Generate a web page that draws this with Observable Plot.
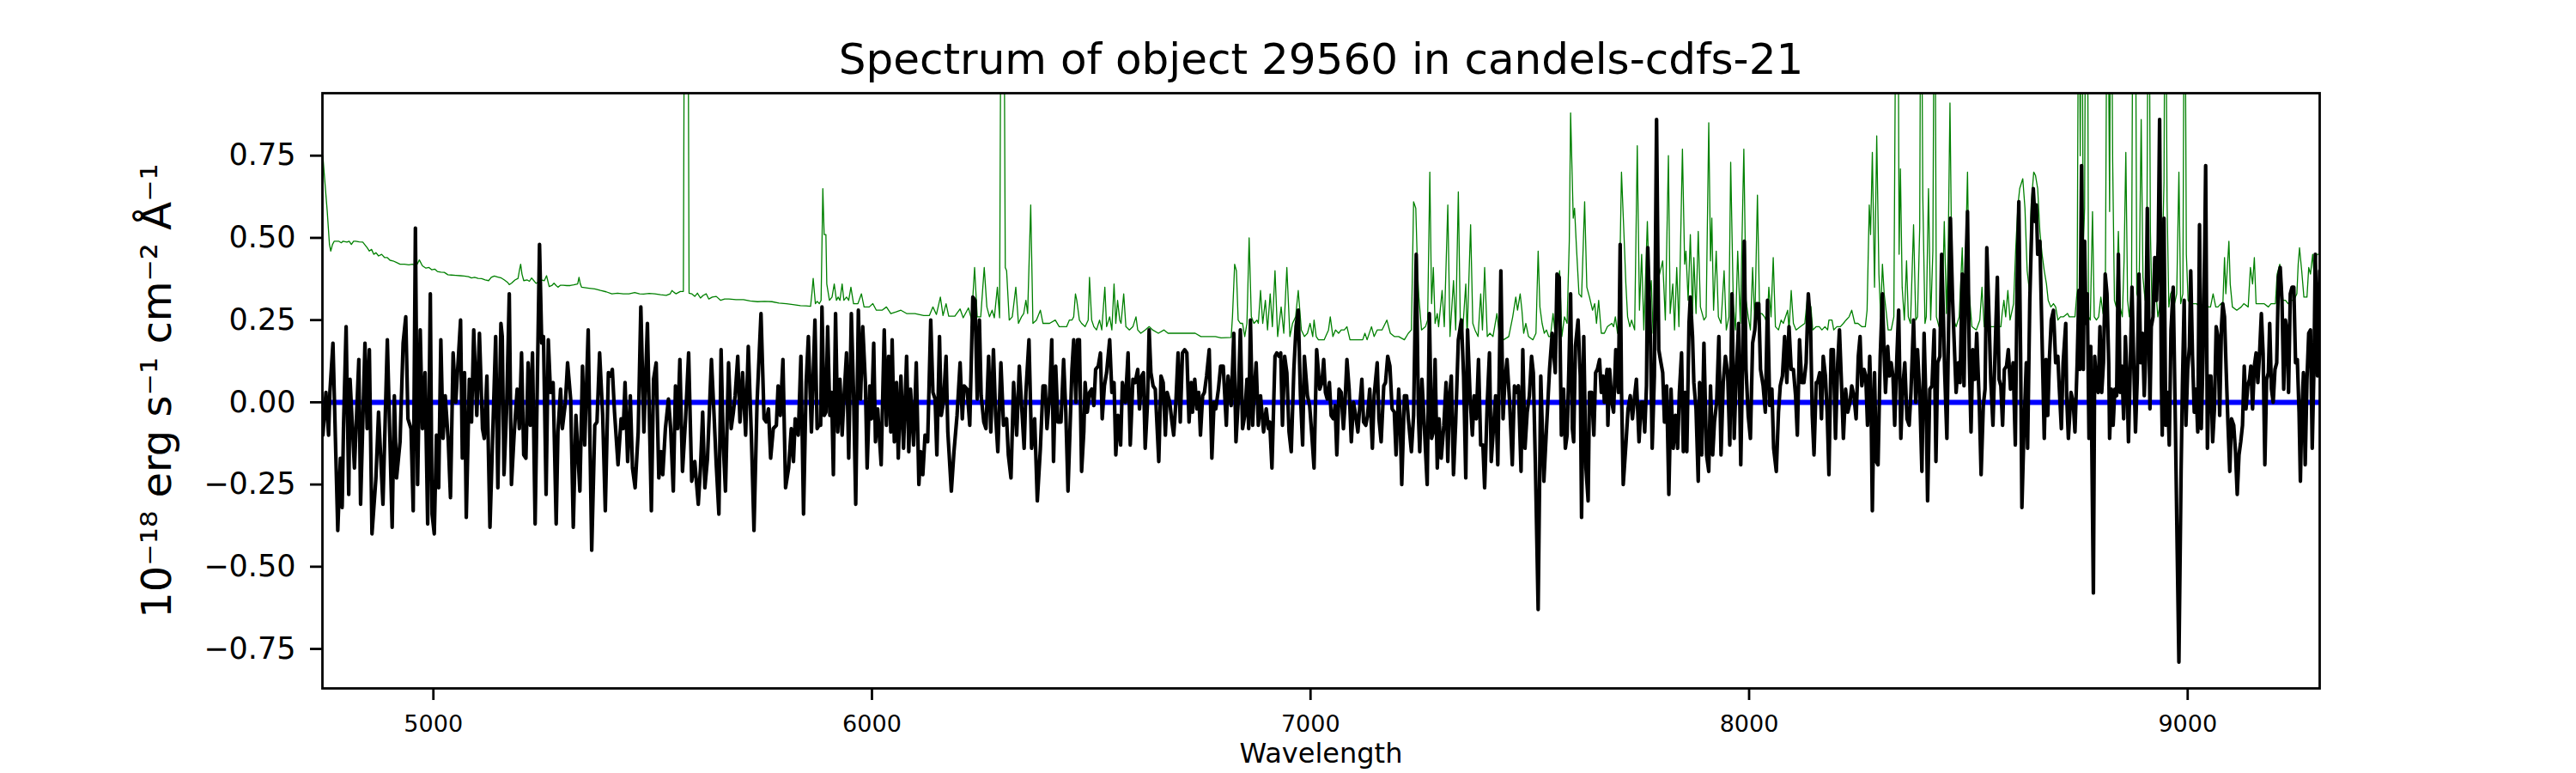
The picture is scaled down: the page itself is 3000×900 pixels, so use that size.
<!DOCTYPE html>
<html><head><meta charset="utf-8">
<script src="https://cdn.jsdelivr.net/npm/d3@7"></script>
<script src="https://cdn.jsdelivr.net/npm/@observablehq/plot@0.6"></script>
<style>body{margin:0;background:#fff}</style>
</head><body><div id="chart"></div>
<script>
const titleText = "Spectrum of object 29560 in candels-cdfs-21";
const xLabel = "Wavelength";
const yLabel = "10⁻¹⁸ erg s⁻¹ cm⁻² Å⁻¹";
const xTicks = [5000, 6000, 7000, 8000, 9000];
const yTicks = [-0.75, -0.5, -0.25, 0, 0.25, 0.5, 0.75];
const zeroLevel = [0];

// observed flux [wavelength, value]
const fluxA = [[4748,-0.10],[4755,0.03],[4761,-0.10],[4764,0.03],[4771,0.18],[4782,-0.39],[4788,-0.17],[4792,-0.32],[4795,-0.08],[4801,0.23],[4807,-0.28],[4810,0.07],[4820,-0.20],[4830,0.13],[4834,-0.31],[4844,0.18],[4849,-0.08],[4854,0.16],[4860,-0.40],[4869,-0.23],[4875,-0.03],[4885,-0.31],[4895,0.19],[4906,-0.38],[4911,0.02],[4916,-0.23],[4924,-0.12],[4931,0.18],[4937,0.26],[4942,-0.05],[4949,-0.08],[4954,-0.33],[4959,0.53],[4964,-0.25],[4970,0.22],[4975,-0.08],[4981,0.09],[4987,-0.37],[4993,0.33],[4997,-0.34],[5002,-0.40],[5007,-0.10],[5012,-0.26],[5017,0.19],[5022,-0.11],[5027,0.02],[5034,-0.12],[5039,-0.29],[5045,0.15],[5051,0.00],[5062,0.25],[5066,-0.17],[5071,0.09],[5075,-0.35],[5082,0.07],[5087,-0.06],[5092,0.22],[5099,-0.04],[5105,0.21],[5112,-0.08],[5116,-0.11],[5122,0.08],[5129,-0.38],[5142,0.20],[5147,-0.26],[5154,0.24],[5157,0.20],[5161,-0.22],[5167,-0.02],[5173,0.33],[5178,-0.25],[5184,-0.10],[5191,0.04],[5196,-0.08],[5201,0.15],[5206,-0.16],[5211,-0.17],[5216,0.12],[5221,-0.07],[5226,0.15],[5232,-0.37],[5237,0.06],[5242,0.48],[5247,0.18],[5251,0.20],[5257,-0.28],[5262,0.19],[5267,0.03],[5273,0.06],[5280,-0.37],[5284,-0.09],[5290,0.04],[5294,-0.08],[5301,0.00],[5306,0.12],[5313,0.01]];
const fluxB = [[5319,-0.38],[5325,-0.04],[5334,-0.27],[5340,0.11],[5345,-0.13],[5353,0.22],[5361,-0.45],[5368,-0.07],[5373,-0.06],[5379,0.15],[5386,-0.04],[5392,-0.33],[5399,0.09],[5404,0.08],[5408,0.10],[5413,-0.03],[5421,-0.19],[5428,-0.05],[5433,-0.08],[5437,0.06],[5443,-0.18],[5449,0.02],[5454,-0.20],[5460,-0.26],[5467,-0.09],[5473,0.29],[5480,-0.09],[5488,0.24],[5497,-0.33],[5502,0.07],[5508,0.12],[5514,-0.23],[5519,-0.15],[5523,-0.22],[5529,-0.08],[5536,0.01],[5541,-0.08],[5547,-0.27],[5552,0.05],[5557,-0.08],[5562,0.13],[5568,-0.21],[5575,-0.05],[5582,0.15],[5589,-0.24],[5596,-0.18],[5604,-0.31],[5609,-0.20],[5614,-0.03],[5619,-0.26],[5625,-0.17],[5634,0.13],[5640,-0.04],[5645,-0.19],[5651,-0.34],[5656,0.16],[5661,-0.13],[5666,-0.27],[5673,0.12],[5679,-0.08],[5684,-0.03],[5688,0.02],[5694,0.14],[5699,-0.06],[5705,0.09],[5712,-0.10],[5718,0.17],[5725,-0.10],[5731,-0.39],[5738,0.00],[5747,0.27],[5754,-0.05],[5759,-0.06],[5764,-0.02],[5769,-0.17],[5775,-0.08],[5782,-0.07],[5786,0.05],[5791,-0.04],[5797,0.13],[5803,-0.26],[5810,-0.20],[5816,-0.08],[5821,-0.18],[5825,-0.05],[5832,-0.10],[5838,0.14],[5844,-0.34],[5850,0.06],[5855,0.20],[5862,-0.09],[5870,0.25],[5875,-0.08],[5879,-0.07]];
const fluxC = [[5883,-0.07],[5886,0.29],[5891,-0.04],[5895,-0.03],[5899,0.23],[5904,-0.04],[5908,0.03],[5912,-0.22],[5917,0.27],[5922,-0.09],[5927,0.07],[5932,-0.10],[5936,0.01],[5942,0.15],[5947,-0.17],[5953,0.27],[5958,0.03],[5963,-0.31],[5969,0.28],[5974,0.01],[5979,0.23],[5985,0.06],[5989,-0.20],[5995,0.05],[5999,-0.05],[6004,0.18],[6008,-0.12],[6013,-0.02],[6021,-0.19],[6028,0.22],[6033,-0.07],[6038,0.14],[6043,-0.09],[6046,0.19],[6051,-0.12],[6056,0.06],[6060,-0.17],[6066,0.08],[6072,-0.14],[6079,0.14],[6084,-0.15],[6088,0.04],[6095,-0.13],[6101,0.12],[6107,-0.25],[6111,-0.15],[6116,-0.22],[6121,-0.10],[6127,-0.12],[6134,0.25],[6139,0.03],[6144,0.01],[6148,-0.16],[6154,0.20],[6158,-0.04],[6163,0.00],[6169,0.14],[6173,-0.09],[6181,-0.27],[6187,-0.15],[6194,-0.04],[6201,0.12],[6206,-0.05],[6210,0.05],[6217,0.04],[6223,-0.07],[6230,0.32],[6235,0.31],[6240,0.01],[6245,0.25],[6249,0.02],[6255,-0.06],[6260,-0.08],[6266,0.14],[6271,-0.09],[6277,0.16],[6282,-0.04],[6287,-0.15],[6294,0.12],[6300,-0.07],[6307,-0.05],[6311,-0.16],[6317,-0.23],[6323,0.06],[6330,-0.10],[6336,0.11],[6343,-0.05],[6347,-0.14],[6351,0.03],[6358,0.19],[6364,-0.14],[6371,-0.05],[6377,-0.30],[6384,-0.14],[6390,0.05],[6395,0.05],[6399,-0.08],[6405,0.02],[6410,0.19],[6414,-0.18],[6419,0.11],[6424,-0.06],[6431,-0.06],[6437,0.13],[6442,-0.03],[6447,-0.27]];
const fluxD = [[6456,0.10],[6460,0.19],[6465,0.00],[6469,0.19],[6473,0.19],[6478,-0.21],[6483,-0.09],[6486,0.06],[6491,-0.03],[6496,0.03],[6501,0.04],[6506,-0.01],[6510,0.10],[6516,0.11],[6521,0.15],[6525,-0.05],[6530,0.05],[6535,0.09],[6542,0.19],[6547,0.03],[6552,0.06],[6556,-0.16],[6561,-0.04],[6567,-0.13],[6571,0.06],[6578,0.00],[6584,0.15],[6589,-0.13],[6595,0.07],[6600,0.06],[6606,0.10],[6610,-0.02],[6615,0.08],[6619,0.09],[6623,-0.14],[6628,-0.01],[6632,0.22],[6636,0.09],[6641,0.05],[6646,0.04],[6654,-0.18],[6659,0.08],[6664,0.06],[6669,-0.10],[6673,0.03],[6679,0.00],[6684,-0.06],[6688,-0.10],[6693,0.00],[6698,0.15],[6703,-0.06],[6708,0.15],[6713,0.16],[6718,0.15],[6723,-0.06],[6728,0.06],[6731,-0.03],[6736,0.07],[6741,-0.02],[6745,0.03],[6749,-0.10],[6754,0.02],[6758,0.03],[6763,0.08],[6769,0.16],[6775,-0.17],[6780,0.00],[6784,-0.02],[6790,0.04],[6795,0.11],[6801,0.11],[6808,-0.07],[6812,0.08],[6819,-0.01],[6825,0.21],[6830,-0.12],[6835,0.00],[6840,0.22],[6845,-0.08],[6850,-0.04],[6855,0.07],[6859,-0.08],[6863,0.25],[6868,-0.07],[6871,0.02],[6876,0.12],[6881,-0.07],[6886,0.02],[6893,-0.09],[6899,-0.02],[6904,-0.08],[6907,-0.06],[6912,-0.20],[6919,0.14],[6923,0.15],[6928,0.14],[6932,0.15],[6936,-0.07],[6941,0.14],[6946,0.09],[6951,-0.09],[6956,-0.15],[6962,0.10],[6967,0.23],[6972,0.28],[6977,0.02],[6982,-0.13],[6986,0.14],[6993,0.02],[6998,-0.01],[7003,-0.10],[7008,-0.20],[7014,0.16]];
const fluxE = [[7021,0.04],[7026,0.06],[7030,0.13],[7034,0.03],[7038,0.01],[7043,0.06],[7047,-0.04],[7052,-0.05],[7056,-0.01],[7060,-0.16],[7065,0.04],[7070,0.03],[7075,-0.08],[7078,-0.02],[7083,0.13],[7088,0.04],[7093,-0.12],[7098,0.00],[7103,-0.04],[7108,-0.09],[7113,0.00],[7117,0.07],[7121,-0.06],[7126,-0.07],[7130,-0.04],[7135,0.04],[7141,-0.14],[7145,0.02],[7152,0.12],[7156,-0.05],[7161,-0.12],[7167,0.05],[7171,0.06],[7176,0.14],[7181,0.11],[7186,-0.02],[7191,-0.03],[7195,-0.16],[7201,0.04],[7204,-0.04],[7208,-0.25],[7214,0.02],[7219,0.02],[7223,-0.05],[7230,-0.15],[7235,-0.04],[7241,0.45],[7246,-0.04],[7249,-0.15],[7254,0.07],[7259,-0.06],[7266,-0.25],[7271,0.27],[7276,-0.11],[7280,-0.09],[7284,0.13],[7289,-0.20],[7293,-0.05],[7298,-0.17],[7304,-0.07],[7309,0.06],[7313,-0.18],[7317,0.02],[7321,0.08],[7326,-0.22],[7331,-0.06],[7337,0.19],[7344,0.25],[7349,0.08],[7354,-0.23],[7358,0.22],[7364,0.01],[7369,-0.10],[7373,0.02],[7378,-0.05],[7383,0.13],[7388,-0.13],[7393,-0.13],[7397,-0.26],[7403,0.00],[7408,0.15],[7412,-0.18],[7417,-0.08],[7422,0.02],[7427,-0.19],[7434,0.40],[7439,-0.05],[7443,0.06],[7448,0.13],[7454,0.00],[7460,-0.19],[7465,0.05],[7469,0.03],[7474,0.05],[7480,-0.21],[7484,0.16],[7489,-0.14],[7494,-0.03],[7499,0.02],[7504,0.14],[7508,0.09],[7513,-0.21],[7519,-0.63],[7525,0.08],[7532,-0.24],[7538,-0.08],[7545,0.10],[7551,0.21],[7558,0.09],[7562,0.39],[7567,0.38],[7572,-0.10],[7577,0.04],[7581,-0.14],[7585,-0.10]];
const fluxF = [[7589,0.10],[7593,0.33],[7597,-0.08],[7600,-0.12],[7604,0.17],[7610,0.25],[7615,0.08],[7618,-0.35],[7623,0.20],[7628,-0.20],[7633,-0.30],[7636,0.03],[7641,0.03],[7646,-0.10],[7650,0.09],[7654,0.10],[7659,0.13],[7663,0.03],[7667,0.08],[7670,0.00],[7676,0.10],[7678,-0.07],[7682,0.10],[7687,0.00],[7691,-0.03],[7696,0.16],[7702,0.03],[7706,0.48],[7709,0.04],[7713,-0.25],[7719,-0.13],[7724,-0.02],[7729,0.02],[7734,-0.05],[7739,0.02],[7743,0.07],[7749,-0.12],[7754,0.00],[7758,0.00],[7762,-0.09],[7766,0.05],[7769,0.47],[7775,0.20],[7779,-0.14],[7784,0.08],[7789,0.86],[7794,0.16],[7799,0.12],[7803,0.09],[7807,-0.06],[7812,0.05],[7817,-0.28],[7822,0.04],[7827,-0.14],[7832,-0.04],[7837,-0.14],[7841,0.03],[7846,0.15],[7850,-0.15],[7854,0.03],[7858,-0.15],[7863,0.24],[7866,0.32],[7871,0.20],[7874,0.06],[7879,-0.02],[7884,-0.24],[7887,0.06],[7892,-0.16],[7897,0.18],[7903,-0.16],[7908,-0.21],[7912,0.05],[7917,-0.16],[7921,-0.06],[7926,0.00],[7931,0.20],[7936,-0.16],[7941,0.06],[7946,0.14],[7951,0.09],[7956,-0.13],[7961,0.33],[7966,-0.11],[7970,0.06],[7976,0.24],[7981,-0.19],[7985,0.11],[7989,0.49],[7993,0.10],[7998,-0.04],[8003,-0.11],[8008,0.18],[8013,0.22],[8017,0.30],[8022,0.30],[8026,0.10],[8032,0.05],[8037,-0.03],[8042,0.31],[8047,-0.01],[8052,0.04],[8056,-0.14],[8062,-0.21],[8067,-0.03],[8071,0.05],[8076,0.08],[8081,0.20],[8086,0.06],[8091,0.23],[8096,0.10],[8101,0.10],[8106,0.02],[8110,-0.10],[8115,0.19],[8120,0.06],[8125,0.06],[8130,0.12],[8135,0.33],[8140,0.24],[8144,-0.04],[8148,-0.16],[8153,0.06]];
const fluxG = [[8156,0.06],[8161,0.09],[8165,-0.05],[8169,0.14],[8174,0.08],[8178,-0.03],[8182,-0.22],[8187,0.16],[8192,0.16],[8197,-0.11],[8202,0.12],[8206,0.22],[8210,0.08],[8215,-0.11],[8220,0.04],[8225,-0.03],[8230,0.00],[8234,0.05],[8239,0.02],[8244,-0.05],[8249,0.14],[8253,0.20],[8257,0.05],[8262,0.10],[8266,0.08],[8270,-0.07],[8275,0.14],[8278,0.00],[8281,-0.33],[8286,0.09],[8290,-0.18],[8294,-0.19],[8299,0.14],[8304,0.33],[8308,0.14],[8311,0.03],[8316,0.17],[8320,0.08],[8324,0.12],[8328,0.08],[8332,-0.07],[8337,0.14],[8341,0.28],[8346,-0.11],[8350,0.04],[8355,0.12],[8360,-0.05],[8365,-0.07],[8369,0.03],[8375,0.25],[8380,0.00],[8384,0.16],[8389,0.03],[8394,-0.21],[8399,0.21],[8404,-0.04],[8407,-0.30],[8412,0.04],[8417,0.05],[8422,0.22],[8426,-0.18],[8430,0.12],[8435,0.14],[8439,0.45],[8443,0.26],[8446,0.09],[8451,-0.11],[8455,0.24],[8459,0.56],[8464,0.31],[8468,0.17],[8472,0.03],[8477,0.12],[8481,0.06],[8486,0.39],[8490,0.05],[8494,0.38],[8498,0.58],[8502,0.14],[8506,-0.09],[8510,0.16],[8515,0.07],[8519,0.21],[8525,-0.01],[8529,-0.22],[8534,-0.01],[8538,0.04],[8542,0.47],[8547,0.26],[8551,0.07],[8556,-0.07],[8561,0.16],[8566,0.38],[8570,0.07],[8574,0.05],[8578,-0.07],[8582,0.10],[8587,0.11],[8591,0.16],[8596,0.04],[8602,0.12],[8607,-0.13],[8611,0.35],[8615,0.61],[8619,0.15],[8622,-0.32],[8627,-0.07],[8632,0.12],[8635,-0.14],[8640,0.31],[8645,0.56],[8648,0.65],[8652,0.55],[8655,0.60],[8658,0.45],[8663,0.49],[8668,0.19],[8673,-0.11],[8677,0.13],[8681,-0.04],[8685,0.14],[8689,0.25],[8694,0.28],[8699,0.12],[8704,0.14],[8707,0.05],[8712,-0.08],[8716,0.12],[8722,0.24]];
const fluxH = [[8724,0.02],[8728,-0.11],[8734,0.03],[8739,0.00],[8743,-0.09],[8748,0.12],[8752,0.34],[8754,0.10],[8758,0.72],[8762,0.10],[8765,0.49],[8768,0.24],[8771,0.33],[8775,-0.11],[8779,0.17],[8785,-0.58],[8788,0.14],[8792,0.05],[8796,0.03],[8800,0.23],[8804,0.03],[8808,0.12],[8812,0.39],[8816,0.33],[8820,0.12],[8822,-0.11],[8826,0.04],[8830,-0.07],[8834,0.04],[8838,0.02],[8842,0.45],[8846,0.03],[8850,0.11],[8854,-0.05],[8858,0.20],[8861,0.10],[8865,-0.12],[8869,0.10],[8873,0.35],[8877,0.12],[8881,-0.09],[8885,0.07],[8889,0.39],[8893,0.12],[8897,0.21],[8901,0.02],[8904,0.13],[8908,0.59],[8914,-0.02],[8917,0.23],[8921,0.26],[8925,0.44],[8929,0.31],[8933,0.49],[8936,0.86],[8940,0.07],[8942,-0.10],[8946,0.56],[8950,-0.07],[8954,0.03],[8958,-0.13],[8962,0.22],[8967,0.35],[8972,-0.07],[8976,-0.44],[8980,-0.79],[8985,-0.21],[8988,0.05],[8992,0.31],[8996,-0.07],[9000,0.10],[9004,0.17],[9007,0.40],[9011,0.14],[9015,-0.03],[9019,0.04],[9023,-0.09],[9027,0.54],[9031,-0.08],[9035,0.14],[9039,0.49],[9041,0.72],[9045,-0.14],[9049,0.08],[9053,0.08],[9057,-0.12],[9061,-0.02],[9065,0.23],[9069,0.20],[9073,-0.04],[9077,0.23],[9080,0.30],[9084,0.26],[9088,0.09],[9092,-0.07],[9096,-0.21],[9100,-0.05],[9105,-0.07],[9109,-0.15],[9113,-0.28],[9117,-0.16],[9121,-0.12],[9125,-0.07],[9129,0.11],[9133,-0.02],[9137,0.05],[9141,0.07],[9144,0.11],[9148,-0.02],[9152,0.11],[9156,0.15],[9160,0.06],[9164,0.15],[9168,0.27],[9172,0.15],[9176,-0.19],[9180,0.07],[9184,0.09],[9187,0.24],[9191,0.04],[9195,0.00],[9199,0.10],[9203,0.12],[9207,0.38],[9211,0.41],[9215,0.31],[9219,0.04],[9223,0.25],[9227,0.21],[9230,0.03],[9234,0.33],[9238,0.35],[9242,0.35],[9246,0.12],[9250,0.13],[9254,-0.03],[9257,-0.24],[9260,-0.04],[9264,0.09],[9268,-0.19],[9272,0.07],[9276,0.21],[9280,0.22],[9284,-0.14],[9288,0.11],[9291,0.45],[9296,0.08],[9301,0.40]];

// noise / sky spectrum [wavelength, value]
const noiseA = [[4748,0.75],[4752,0.68],[4758,0.58],[4763,0.48],[4766,0.46],[4770,0.48],[4774,0.49],[4784,0.49],[4790,0.485],[4794,0.49],[4803,0.487],[4808,0.49],[4813,0.48],[4818,0.49],[4823,0.49],[4831,0.488],[4839,0.487],[4849,0.47],[4854,0.46],[4859,0.465],[4864,0.45],[4869,0.455],[4875,0.445],[4882,0.45],[4889,0.44],[4895,0.44],[4901,0.432],[4908,0.43],[4916,0.425],[4924,0.42],[4934,0.42],[4944,0.418],[4952,0.42],[4957,0.418],[4963,0.42],[4968,0.433],[4975,0.415],[4983,0.408],[4990,0.41],[4996,0.403],[5003,0.405],[5009,0.398],[5017,0.396],[5025,0.395],[5033,0.388],[5041,0.387],[5051,0.386],[5061,0.385],[5070,0.384],[5080,0.382],[5087,0.378],[5094,0.38],[5102,0.377],[5110,0.376],[5118,0.372],[5126,0.37],[5132,0.38],[5139,0.384],[5147,0.381],[5155,0.378],[5162,0.372],[5169,0.365],[5173,0.358],[5178,0.362],[5186,0.372],[5193,0.377],[5196,0.40],[5199,0.42],[5202,0.39],[5206,0.37],[5214,0.372],[5219,0.368],[5224,0.378],[5229,0.37],[5234,0.362],[5240,0.366],[5245,0.372],[5253,0.37],[5258,0.385],[5264,0.352],[5270,0.355],[5275,0.362],[5280,0.355],[5284,0.35],[5290,0.356],[5296,0.356],[5304,0.355],[5312,0.355]];
const noiseB = [[5320,0.357],[5329,0.36],[5332,0.38],[5335,0.36],[5338,0.35],[5355,0.347],[5368,0.345],[5381,0.34],[5394,0.336],[5407,0.33],[5420,0.332],[5433,0.33],[5446,0.33],[5459,0.334],[5470,0.33],[5479,0.329],[5492,0.331],[5505,0.33],[5518,0.327],[5531,0.325],[5540,0.33],[5544,0.34],[5548,0.335],[5553,0.33],[5563,0.337],[5570,0.337],[5573,1.6],[5580,1.6],[5583,0.332],[5589,0.33],[5596,0.322],[5602,0.332],[5609,0.317],[5615,0.325],[5622,0.33],[5628,0.314],[5636,0.32],[5645,0.322],[5655,0.31],[5664,0.314],[5674,0.314],[5690,0.312],[5707,0.312],[5722,0.308],[5739,0.306],[5755,0.307],[5772,0.306],[5788,0.302],[5805,0.30],[5820,0.297],[5837,0.294],[5850,0.293],[5860,0.292],[5863,0.33],[5866,0.377],[5869,0.33],[5871,0.30],[5875,0.307],[5880,0.30],[5884,0.31]];
const noiseC = [[5888,0.65],[5891,0.51],[5895,0.51],[5897,0.36],[5903,0.31],[5909,0.32],[5914,0.36],[5919,0.31],[5923,0.32],[5927,0.31],[5932,0.36],[5936,0.31],[5942,0.32],[5947,0.31],[5952,0.35],[5958,0.30],[5968,0.30],[5976,0.33],[5982,0.29],[5994,0.29],[6002,0.30],[6010,0.28],[6023,0.28],[6033,0.29],[6043,0.27],[6055,0.275],[6066,0.28],[6079,0.27],[6098,0.27],[6118,0.264],[6131,0.264],[6139,0.29],[6147,0.267],[6156,0.32],[6162,0.264],[6169,0.30],[6175,0.262],[6189,0.262],[6201,0.284],[6208,0.257],[6220,0.287],[6227,0.252],[6234,0.41],[6240,0.26],[6248,0.26],[6256,0.41],[6262,0.29],[6268,0.26],[6274,0.28],[6279,0.257],[6286,0.35],[6291,0.257],[6295,1.6],[6300,1.6],[6304,0.41],[6307,0.40],[6313,0.25],[6320,0.26],[6328,0.35],[6334,0.24],[6341,0.26],[6346,0.27],[6351,0.31],[6355,0.27],[6362,0.60],[6367,0.24],[6375,0.25],[6384,0.28],[6390,0.24],[6405,0.24],[6418,0.25],[6427,0.23],[6444,0.23],[6450,0.25]];
const noiseD = [[6456,0.25],[6460,0.26],[6464,0.33],[6467,0.31],[6473,0.25],[6478,0.24],[6486,0.23],[6493,0.25],[6496,0.38],[6501,0.25],[6506,0.23],[6512,0.22],[6519,0.25],[6524,0.22],[6531,0.35],[6535,0.23],[6542,0.26],[6547,0.22],[6552,0.36],[6556,0.24],[6560,0.31],[6565,0.25],[6568,0.24],[6574,0.33],[6579,0.23],[6587,0.22],[6595,0.23],[6602,0.26],[6606,0.22],[6613,0.21],[6623,0.22],[6632,0.23],[6640,0.22],[6653,0.21],[6666,0.22],[6675,0.21],[6695,0.21],[6708,0.21],[6721,0.21],[6737,0.21],[6750,0.20],[6770,0.20],[6783,0.20],[6796,0.196],[6819,0.197],[6822,0.26],[6827,0.42],[6831,0.40],[6835,0.25],[6840,0.24],[6845,0.24],[6850,0.20],[6855,0.24],[6860,0.50],[6865,0.26],[6871,0.24],[6878,0.25],[6881,0.24],[6886,0.34],[6891,0.24],[6897,0.31],[6902,0.22],[6908,0.33],[6913,0.23],[6919,0.40],[6925,0.20],[6933,0.29],[6939,0.21],[6946,0.41],[6953,0.20],[6959,0.24],[6966,0.26],[6972,0.34],[6979,0.22],[6986,0.20],[6993,0.21],[6999,0.24],[7005,0.20],[7008,0.25],[7013,0.20],[7018,0.19]];
const noiseE = [[7031,0.19],[7041,0.22],[7045,0.26],[7051,0.20],[7057,0.22],[7064,0.21],[7070,0.22],[7077,0.22],[7083,0.23],[7090,0.19],[7109,0.19],[7119,0.19],[7124,0.21],[7129,0.19],[7139,0.23],[7145,0.20],[7152,0.22],[7163,0.22],[7174,0.25],[7182,0.21],[7191,0.20],[7201,0.20],[7214,0.19],[7223,0.21],[7230,0.22],[7235,0.61],[7240,0.59],[7244,0.40],[7247,0.32],[7253,0.22],[7262,0.23],[7267,0.25],[7272,0.70],[7276,0.30],[7280,0.41],[7284,0.24],[7289,0.27],[7292,0.23],[7300,0.34],[7305,0.23],[7313,0.60],[7318,0.20],[7326,0.37],[7331,0.22],[7337,0.64],[7342,0.20],[7347,0.22],[7354,0.36],[7357,0.20],[7365,0.54],[7370,0.24],[7375,0.22],[7382,0.20],[7388,0.33],[7392,0.22],[7397,0.41],[7403,0.20],[7409,0.21],[7416,0.20],[7425,0.27],[7430,0.21],[7440,0.19],[7452,0.20],[7461,0.26],[7468,0.32],[7472,0.28],[7478,0.33],[7482,0.28],[7486,0.21],[7491,0.24],[7497,0.20],[7507,0.19],[7514,0.21],[7519,0.46],[7523,0.29],[7528,0.24],[7533,0.21],[7538,0.22],[7543,0.20],[7547,0.20],[7553,0.27],[7558,0.20],[7562,0.34],[7568,0.40],[7573,0.20],[7579,0.26],[7585,0.24]];
const noiseF = [[7590,0.49],[7593,0.88],[7599,0.56],[7602,0.59],[7606,0.48],[7612,0.33],[7618,0.32],[7625,0.61],[7630,0.35],[7636,0.32],[7643,0.28],[7648,0.30],[7652,0.24],[7657,0.31],[7663,0.21],[7670,0.21],[7677,0.23],[7687,0.24],[7691,0.23],[7695,0.26],[7700,0.21],[7704,0.31],[7709,0.70],[7715,0.50],[7719,0.36],[7723,0.26],[7728,0.23],[7732,0.25],[7739,0.22],[7745,0.78],[7750,0.28],[7755,0.45],[7760,0.22],[7768,0.55],[7773,0.32],[7777,0.37],[7781,0.21],[7788,0.27],[7794,0.38],[7803,0.43],[7809,0.25],[7816,0.75],[7820,0.27],[7826,0.36],[7830,0.22],[7835,0.41],[7840,0.23],[7848,0.77],[7853,0.42],[7856,0.46],[7861,0.31],[7866,0.51],[7871,0.27],[7874,0.44],[7879,0.27],[7884,0.52],[7889,0.29],[7897,0.25],[7902,0.26],[7908,0.85],[7912,0.43],[7915,0.56],[7919,0.28],[7925,0.46],[7930,0.26],[7936,0.24],[7943,0.40],[7948,0.22],[7954,0.26],[7958,0.73],[7964,0.30],[7969,0.22],[7974,0.46],[7980,0.24],[7988,0.77],[7993,0.31],[7998,0.26],[8003,0.22],[8008,0.41],[8013,0.24],[8019,0.63],[8024,0.27],[8029,0.27],[8035,0.26],[8041,0.24],[8045,0.35],[8050,0.26],[8055,0.44],[8060,0.23],[8067,0.22],[8073,0.25],[8078,0.24],[8088,0.28],[8091,0.22],[8096,0.34],[8101,0.24],[8107,0.22],[8117,0.23],[8127,0.24],[8133,0.32],[8141,0.29],[8145,0.22],[8153,0.23]];
const noiseG = [[8160,0.23],[8166,0.22],[8173,0.23],[8179,0.22],[8182,0.25],[8189,0.25],[8193,0.22],[8200,0.23],[8208,0.23],[8215,0.24],[8221,0.25],[8228,0.26],[8234,0.28],[8241,0.24],[8248,0.24],[8257,0.23],[8265,0.23],[8269,0.28],[8274,0.60],[8277,0.51],[8281,0.76],[8286,0.35],[8291,0.81],[8296,0.39],[8300,0.26],[8304,0.42],[8308,0.33],[8313,0.27],[8317,0.22],[8324,0.22],[8330,0.26],[8336,1.6],[8339,1.6],[8342,0.45],[8345,0.71],[8349,0.35],[8354,0.25],[8359,0.43],[8363,0.26],[8368,0.24],[8375,0.54],[8380,0.25],[8384,0.26],[8389,0.53],[8392,1.6],[8396,0.63],[8401,0.24],[8404,0.26],[8409,0.65],[8414,0.25],[8419,0.46],[8423,1.6],[8427,0.26],[8433,0.23],[8440,0.25],[8445,0.55],[8450,0.27],[8454,0.47],[8458,0.91],[8463,0.31],[8467,0.25],[8472,0.23],[8479,0.26],[8486,0.47],[8489,0.31],[8493,0.41],[8498,0.70],[8502,0.33],[8508,0.23],[8518,0.22],[8526,0.25],[8531,0.35],[8536,0.23],[8544,0.23],[8554,0.23],[8564,0.23],[8574,0.23],[8577,0.27],[8581,0.31],[8585,0.26],[8590,0.34],[8595,0.25],[8603,0.30],[8608,0.47],[8613,0.60],[8617,0.65],[8624,0.68],[8629,0.59],[8634,0.40],[8639,0.34],[8643,0.60],[8649,0.70],[8653,0.69],[8658,0.65],[8663,0.52],[8668,0.45],[8673,0.40],[8678,0.36],[8682,0.31],[8688,0.29],[8694,0.30],[8699,0.29],[8704,0.25],[8710,0.26],[8717,0.26]];
const noiseH = [[8726,0.27],[8730,0.26],[8737,0.26],[8743,0.26],[8748,0.34],[8752,1.6],[8755,0.75],[8758,1.6],[8762,0.47],[8765,0.59],[8768,1.6],[8771,1.6],[8774,0.26],[8778,0.25],[8783,0.58],[8787,0.26],[8792,0.25],[8797,0.26],[8802,0.32],[8807,0.27],[8812,0.26],[8817,1.6],[8822,0.58],[8825,1.6],[8829,0.73],[8833,0.31],[8837,0.29],[8842,0.52],[8846,0.29],[8851,0.26],[8855,0.43],[8859,0.76],[8863,0.31],[8867,0.26],[8872,0.35],[8876,1.6],[8880,1.6],[8884,0.33],[8889,0.31],[8894,0.86],[8898,0.38],[8903,0.31],[8907,0.51],[8911,1.6],[8915,0.52],[8919,0.27],[8924,0.31],[8928,0.33],[8932,0.26],[8936,0.29],[8941,0.37],[8946,0.67],[8949,1.6],[8953,0.61],[8957,0.29],[8961,0.33],[8965,0.34],[8970,0.30],[8975,0.33],[8980,0.70],[8984,0.30],[8989,0.33],[8993,1.6],[8997,0.45],[9001,0.31],[9006,0.30],[9014,0.30],[9020,0.30],[9027,0.29],[9034,0.29],[9040,0.30],[9047,0.29],[9052,0.29],[9058,0.33],[9064,0.29],[9069,0.29],[9076,0.30],[9080,0.29],[9084,0.44],[9087,0.33],[9094,0.49],[9097,0.36],[9102,0.29],[9112,0.28],[9122,0.29],[9128,0.30],[9138,0.29],[9143,0.41],[9148,0.36],[9152,0.44],[9156,0.30],[9164,0.30],[9174,0.30],[9184,0.29],[9190,0.30],[9200,0.30],[9204,0.39],[9210,0.42],[9214,0.38],[9217,0.31],[9223,0.31],[9229,0.30],[9236,0.31],[9242,0.31],[9249,0.33],[9252,0.42],[9255,0.47],[9260,0.40],[9265,0.32],[9272,0.32],[9276,0.41],[9280,0.39],[9285,0.45],[9289,0.37],[9294,0.45],[9301,0.45]];

const toRows = (arr) => arr.map(([w, f]) => ({w, f}));
const flux = toRows([...fluxA, ...fluxB, ...fluxC, ...fluxD, ...fluxE, ...fluxF, ...fluxG, ...fluxH]);
const noise = toRows([...noiseA, ...noiseB, ...noiseC, ...noiseD, ...noiseE, ...noiseF, ...noiseG, ...noiseH]);

const chart = Plot.plot({
  width: 3000,
  height: 900,
  marginLeft: 375,
  marginRight: 299,
  marginTop: 108,
  marginBottom: 99,
  x: {domain: [4747, 9301]},
  y: {domain: [-0.87, 0.94]},
  style: {fontFamily: "DejaVu Sans", color: "black", background: "white", overflow: "visible"},
  marks: [
    Plot.line(noise, {x: "w", y: "f", stroke: "#008000", strokeWidth: 1.3, clip: true}),
    Plot.ruleY(zeroLevel, {stroke: "#0000ff", strokeWidth: 6}),
    Plot.line(flux, {x: "w", y: "f", stroke: "black", strokeWidth: 4.2, clip: true}),
    Plot.frame({stroke: "black", strokeWidth: 2.8}),
    Plot.axisX({ticks: xTicks, tickSize: 14, tickPadding: 17, fontSize: 27, tickFormat: (d) => String(d), strokeWidth: 2.8, label: null}),
    Plot.axisY({ticks: yTicks, tickSize: 14, tickPadding: 17, fontSize: 35, tickFormat: d3.format(".2f"), strokeWidth: 2.8, label: null}),
    Plot.text([titleText], {text: (d) => d, frameAnchor: "top", dy: -23, lineAnchor: "bottom", fontSize: 50, fill: "black"}),
    Plot.text([xLabel], {text: (d) => d, frameAnchor: "bottom", dy: 86, lineAnchor: "bottom", fontSize: 32, fill: "black"}),
    Plot.text([yLabel], {text: (d) => d, frameAnchor: "left", dx: -192, rotate: -90, textAnchor: "middle", fontSize: 48, fill: "black"})
  ]
});
document.getElementById("chart").appendChild(chart);
</script>
</body></html>
